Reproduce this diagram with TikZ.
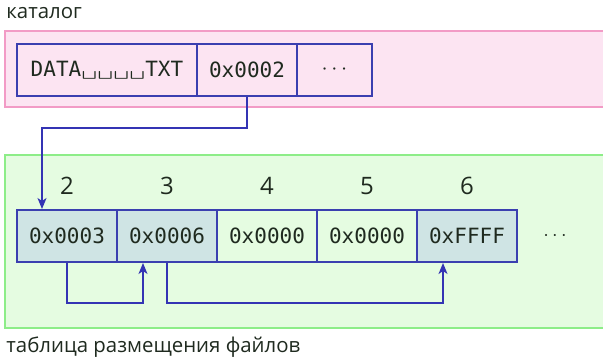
\documentclass[tikz,border=0pt]{standalone}
\usepackage{fontspec}
\setmainfont{Open Sans}
\setsansfont{Open Sans}
\setmonofont{DejaVu Sans Mono}
\newfontfamily\lmmono{Latin Modern Mono}
\usetikzlibrary{arrows,arrows.meta}
\definecolor{pinkfill}{HTML}{FCE4F2}
\definecolor{pinkline}{HTML}{F29BC6}
\definecolor{greenfill}{HTML}{E5FCE1}
\definecolor{greenline}{HTML}{8DED88}
\definecolor{boxblue}{HTML}{3B3FB0}
\definecolor{linkblue}{HTML}{3434B4}
\definecolor{usedfill}{HTML}{CFE4E4}
\definecolor{ink}{HTML}{1F2A1F}
\newcommand{\vsp}{\makebox[8pt]{\scalebox{1.4}[1]{\lmmono\textvisiblespace}}}

\begin{document}
\begin{tikzpicture}[x=0.5pt,y=-0.5pt,
  cell/.style={draw=boxblue,line width=1pt,minimum height=26pt,inner sep=0pt,
    text=ink,font=\ttfamily\fontsize{10.5}{12}\selectfont},
  link/.style={draw=linkblue,line width=0.8pt,-{Stealth[length=5.5pt,width=4.5pt,inset=1.5pt]}},
  lbl/.style={text=ink,inner sep=0pt,font=\fontsize{10.2}{12}\selectfont}]
\useasboundingbox (0,0) rectangle (603,360);
% catalog
\node[lbl,anchor=west] (catlabel) at (6,13) {каталог};
\draw[draw=pinkline,fill=pinkfill,line width=0.8pt] (5,31) rectangle (620,107);
\node[cell,minimum width=90pt] (dname) at (107,70) {DATA\vsp\vsp\vsp\vsp TXT};
\node[cell,minimum width=50pt] (dclus) at (247,70) {0x0002};
\node[cell,minimum width=37.5pt] (dmore) at (334.5,70) {$\cdots$};
% FAT
\draw[draw=greenline,fill=greenfill,line width=0.8pt] (5,155) rectangle (620,328);
\foreach \n/\v/\f in {2/0x0003/usedfill,3/0x0006/usedfill,4/0x0000/greenfill,
                      5/0x0000/greenfill,6/0xFFFF/usedfill} {
    \node[lbl,font=\fontsize{12}{14}\selectfont] (idx\n) at (100*\n-133,186) {\n};
    \node[cell,fill=\f,minimum width=50pt] (fat\n) at (100*\n-133,236) {\v};
}
\node[text=ink] (fatmore) at (555,236) {$\cdots$};
\node[lbl,anchor=west] (fatlabel) at (6,347) {таблица размещения файлов};
% links
\draw[link] (dclus.south) -- ++(0,31) -| ([xshift=-12.5pt]fat2.north);
\draw[link] (fat2.south) -- ++(0,40) -| ([xshift=-12pt]fat3.south);
\draw[link] (fat3.south) -- ++(0,40) -| ([xshift=-12pt]fat6.south);
\end{tikzpicture}
\end{document}
